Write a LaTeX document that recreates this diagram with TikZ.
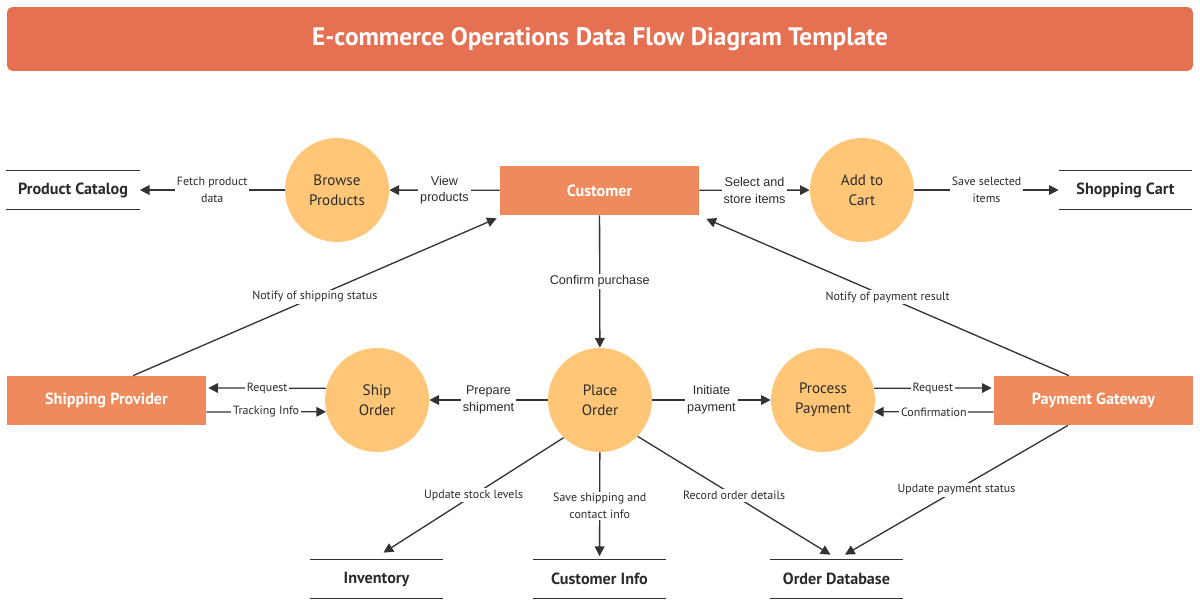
\documentclass[tikz,border=0pt]{standalone}
\usepackage{fontspec}
\setmainfont{PT Sans}
\newfontfamily\arialfont{Liberation Sans}
\usepackage{xcolor}
\usetikzlibrary{arrows.meta,calc,positioning}

\definecolor{titlered}{HTML}{E67052}
\definecolor{entityorange}{HTML}{EE8A5B}
\definecolor{processyellow}{HTML}{FFC677}
\definecolor{linegray}{HTML}{333333}
\definecolor{textgray}{HTML}{2B2B2B}

\begin{document}
\begin{tikzpicture}[x=0.02cm,y=-0.02cm,->,>={Triangle[length=5.5pt,width=5.5pt]},
  every edge/.style={draw=linegray,line width=0.75pt},
  titlebar/.style={rectangle,rounded corners=3pt,fill=titlered,minimum width=23.72cm,minimum height=1.28cm,text=white,font=\bfseries\fontsize{14.4}{17}\selectfont},
  proc/.style={circle,fill=processyellow,minimum size=2.08cm,inner sep=0pt,align=center,text=textgray,font=\fontsize{8.6}{11.3}\selectfont},
  ext/.style={rectangle,fill=entityorange,minimum width=3.98cm,minimum height=0.98cm,text=white,font=\bfseries\fontsize{9.2}{10}\selectfont},
  store/.style={rectangle,minimum width=2.66cm,minimum height=0.76cm,text=textgray,font=\bfseries\fontsize{9.2}{10}\selectfont},
  storeline/.style={draw=linegray,line width=0.75pt},
  lbl/.style={fill=white,inner sep=1pt,align=center,text=textgray,font=\fontsize{6.8}{9.4}\selectfont},
  albl/.style={lbl,font=\arialfont\fontsize{7.2}{9.6}\selectfont}]

    \useasboundingbox (0,0) rectangle (1200,605);

    % Title
	\node [titlebar] at (600,39) (title) {E-commerce Operations Data Flow Diagram Template};

    % Top row
	\node [store] at (73,190) (pc) {Product Catalog};
	\node [proc] at (337,190) (browse) {Browse\\Products};
	\node [ext] at (599.5,190.5) (cust) {Customer};
	\node [proc] at (862,190) (cart) {Add to\\Cart};
	\node [store] at (1125.5,190) (sc) {Shopping Cart};

    % Middle row
	\node [ext] at (106.5,400.5) (sp) {Shipping Provider};
	\node [proc] at (377,400) (ship) {Ship\\Order};
	\node [proc] at (600,400) (po) {Place\\Order};
	\node [proc] at (823,400) (pp) {Process\\Payment};
	\node [ext] at (1093.5,400.5) (pg) {Payment Gateway};

    % Data stores
	\node [store] at (376.5,579) (inv) {Inventory};
	\node [store] at (599.5,579) (ci) {Customer Info};
	\node [store] at (836.5,579) (od) {Order Database};

	\foreach \s in {pc,sc,inv,ci,od}
	  \draw[-,storeline] (\s.north west) -- (\s.north east) (\s.south west) -- (\s.south east);

	% Flows
	\path[->]
	(cust) edge node[albl] {View\\products} (browse)
	(browse) edge node[lbl] {Fetch product\\data} (pc)
	(cust) edge node[albl] {Select and\\store items} (cart)
	(cart) edge node[lbl] {Save selected\\items} (sc)
	(cust) edge node[albl] {Confirm purchase} (po)
	($(sp.north)+(26.5,0)$) edge node[lbl] {Notify of shipping status} ($(cust.south west)+(-3,3)$)
	($(pg.north)+(-24.5,0)$) edge node[lbl] {Notify of payment result} ($(cust.south east)+(7,3.5)$);

	\path[->]
	(po) edge node[albl] {Prepare\\shipment} (ship)
	(po) edge node[albl] {Initiate\\payment} (pp)
	(ship.167) edge node[lbl] {Request} ($(sp.east)+(2,-12.5)$)
	($(sp.east)+(0,11.5)$) edge node[lbl] {Tracking Info} (ship.193)
	(pp.13) edge node[lbl] {Request} ($(pg.west)+(-2,-12.5)$)
	($(pg.west)+(0,11.5)$) edge node[lbl] {Confirmation} (pp.347);

	\path[->]
	(po.226) edge node[lbl] {Update stock levels} ($(inv.north)+(7,-7)$)
	(po) edge[shorten >=2pt] node[lbl] {Save shipping and\\contact info} (ci)
	(po.316) edge node[lbl] {Record order details} ($(od.north)+(-6,-5)$)
	($(pg.south)+(-25.5,0)$) edge node[lbl] {Update payment status} ($(od.north)+(8.5,-5)$);

\end{tikzpicture}
\end{document}
